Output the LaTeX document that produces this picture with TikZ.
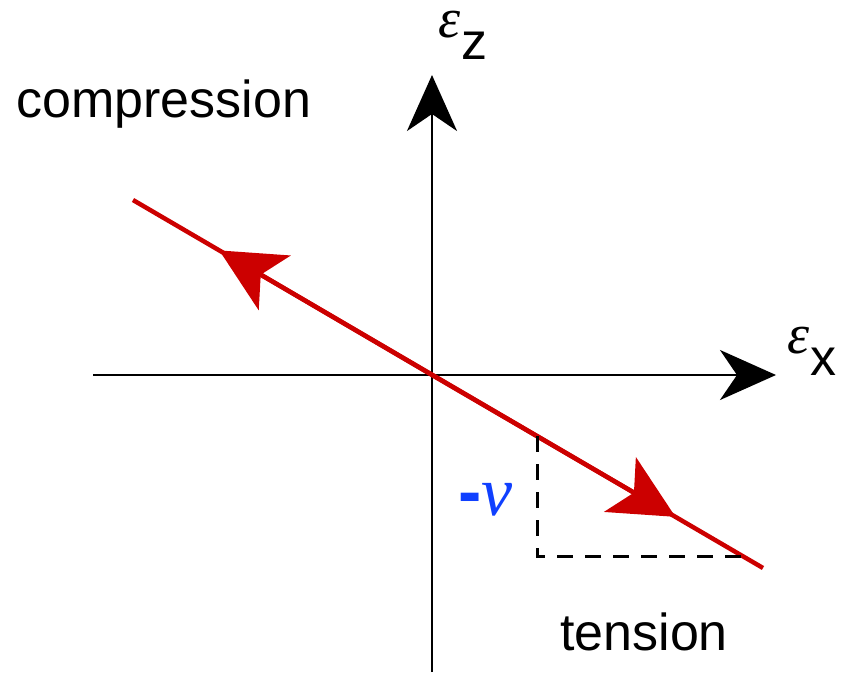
\documentclass[tikz,border=0pt]{standalone}
\usepackage{fontspec}
\setmainfont{Liberation Sans}
\newfontfamily\greekserif{Liberation Serif}
\usepackage{tikz}
\usetikzlibrary{arrows.meta,calc}
\definecolor{strainred}{RGB}{204,0,0}
\definecolor{nublue}{RGB}{16,64,255}

\begin{document}
\begin{tikzpicture}[
      x=1pt,y=-1pt,
      axis/.style={line width=2.5pt,-{Stealth[length=56pt,width=50pt,inset=17pt]}},
      strain/.style={line width=4.5pt,draw=strainred},
      strainarr/.style={strain,-{Stealth[length=64pt,width=63pt,inset=16pt]}},
      guide/.style={line width=3pt,dash pattern=on 16pt off 12pt},
      lbl/.style={inner sep=0pt,font=\fontsize{52}{60}\selectfont}
    ]
    \useasboundingbox (0,0) rectangle (846,672);
    \coordinate (O) at (432,375);
    \coordinate (xstart) at (93,375);
    \coordinate (xend) at (776,375);
    \coordinate (zstart) at (432,672);
    \coordinate (zend) at (432,75);
    \coordinate (S) at (133,200);
    \coordinate (E) at (763,568);
    \coordinate (tipA) at ($(S)!0.137!(E)$);
    \coordinate (tipB) at ($(S)!0.861!(E)$);
    \coordinate (dtop) at (537,436);
    \coordinate (dend) at (748,556);
    % axes
    \draw[axis] (xstart) -- (xend);
    \draw[axis] (zstart) -- (zend);
    % strain line
    \draw[strain] (S) -- (E);
    \draw[strainarr] (O) -- (tipA);
    \draw[strainarr] (O) -- (tipB);
    \draw[guide] (dtop) |- (dend);
    % labels
    \node[lbl,anchor=base west] (ez) at (438,37) {{\greekserif\itshape\fontsize{56}{60}\selectfont ε}\hspace{1pt}\raisebox{-22pt}{z}};
    \node[lbl,anchor=base west] (ex) at (787,353) {{\greekserif\itshape\fontsize{56}{60}\selectfont ε}\hspace{1pt}\raisebox{-22pt}{x}};
    \node[lbl,anchor=base west] (comp) at (16,117) {compression};
    \node[lbl,anchor=base west] (tens) at (560,650) {tension};
    \node[lbl,anchor=base west,text=nublue,font=\fontsize{70}{80}\selectfont] (nu) at (458,515) {\textbf{-}{\greekserif\itshape ν}};
  \end{tikzpicture}
\end{document}
